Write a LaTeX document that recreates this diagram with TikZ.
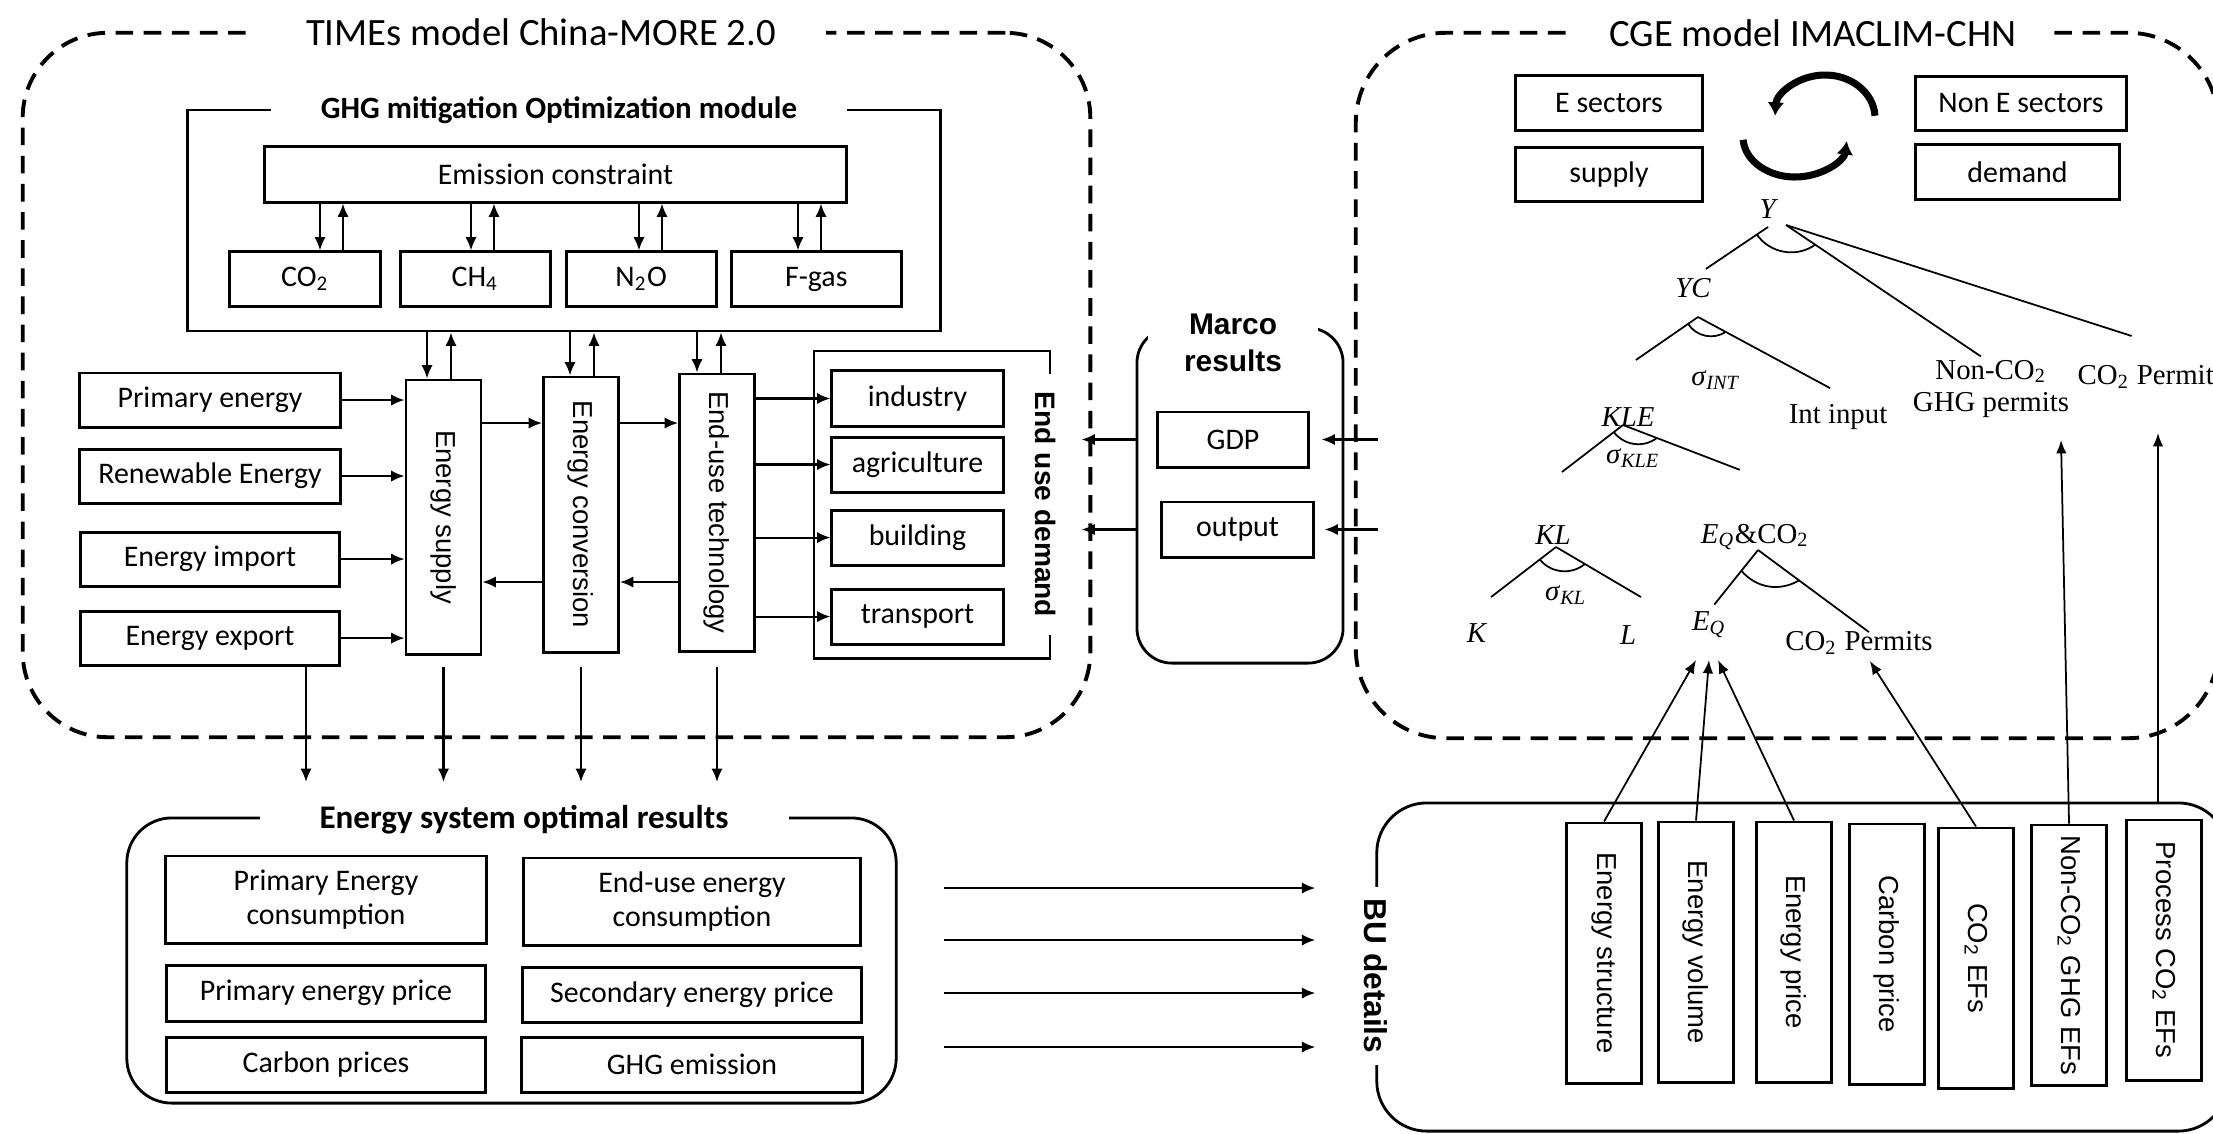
\documentclass[tikz,border=0pt]{standalone}
\usepackage{fontspec}
\setmainfont{Carlito}
\newfontfamily\arialfont{Liberation Sans}
\newfontfamily\serifont{Liberation Serif}
\usetikzlibrary{arrows.meta, positioning}

\begin{document}
\begin{tikzpicture}[
		x=0.01cm, y=0.01cm,
		every node/.style={font=\fontsize{8.5}{9.5}\selectfont, inner sep=0pt},
		%% Frame styles
		model/.style={rectangle, draw=black, line width=1.1pt,
			dash pattern=on 5pt off 3pt, rounded corners=0.85cm},
		panel/.style={rectangle, draw=black, line width=0.8pt},
		heading/.style={fill=white, font=\fontsize{11}{13}\selectfont,
			inner xsep=0.5cm, inner ysep=2pt},
		subhead/.style={fill=white, font=\bfseries\fontsize{8.8}{10}\selectfont,
			inner xsep=0.5cm, inner ysep=2pt},
		sidetag/.style={rotate=-90, fill=white,
			font=\arialfont\bfseries\fontsize{8}{9}\selectfont,
			inner xsep=0.16cm, inner ysep=1pt},
		%% Box styles
		cell/.style={rectangle, draw=black, line width=0.85pt, align=center},
		vbox/.style={rectangle, draw=black, line width=0.8pt,
			minimum width=0.75cm, minimum height=2.6cm},
		vtext/.style={rotate=-90, font=\arialfont\fontsize{7.8}{9}\selectfont},
		leaf/.style={font=\serifont\fontsize{8.2}{9.2}\selectfont, align=center},
		%% Arrow styles
		arr/.style={-{Latex[length=3.8pt,width=3.2pt]}, line width=0.6pt},
		feed/.style={-{Latex[length=3.8pt,width=3pt]}, line width=0.5pt},
		branch/.style={line width=0.5pt},
		cyclearr/.style={-{Latex[length=3.8pt,width=4.8pt]}, line width=2pt},
		]
		
		\useasboundingbox (0,0) rectangle (2213,-1133);
		
		%% ── TIMES model (left) ───────────────────────────────────────────
		\node[model, minimum width=10.67cm, minimum height=7.04cm] (times) at (556.5,-385) {};
		\node[heading] (timestitle) at (541,-32) {TIMEs model China-MORE 2.0};
		
		\node[panel, minimum width=7.52cm, minimum height=2.21cm] (ghg) at (564,-220.5) {};
		\node[subhead] (ghgtitle) at (559,-110) {GHG mitigation Optimization module};
		
		\node[cell, minimum width=5.81cm, minimum height=0.55cm] (emis) at (555.5,-174.5)
		{Emission constraint};
		
		\node[cell, minimum width=1.5cm, minimum height=0.54cm] (co2) at (305,-279)
		{CO\textsubscript{2}};
		\node[cell, minimum width=1.5cm, minimum height=0.54cm, right=0.17cm of co2] (ch4)
		{CH\textsubscript{4}};
		\node[cell, minimum width=1.5cm, minimum height=0.54cm, right=0.13cm of ch4] (n2o)
		{N\textsubscript{2}O};
		\node[cell, minimum width=1.7cm, minimum height=0.54cm, right=0.12cm of n2o] (fgas)
		{F-gas};
		
		%% constraint <-> gases
		\foreach \g/\xa in {co2/320, ch4/471, n2o/639, fgas/798}{
			\draw[arr] (\xa,0 |- emis.south) -- (\xa,0 |- \g.north);
			\draw[arr] (\xa+23,0 |- \g.north) -- (\xa+23,0 |- emis.south);
		}
		
		%% energy chain
		\node[vbox, minimum height=2.74cm, label={[vtext]center:Energy supply}] (supply) at (443.5,-517) {};
		\node[vbox, minimum height=2.75cm, label={[vtext]center:Energy conversion}] (conv) at (581,-514.5) {};
		\node[vbox, minimum height=2.77cm, label={[vtext]center:End-use technology}] (tech) at (717,-512.5) {};
		
		\foreach \b/\xa in {supply/427, conv/570, tech/697}{
			\draw[arr] (\xa,0 |- ghg.south) -- (\xa,0 |- \b.north);
			\draw[arr] (\xa+24,0 |- \b.north) -- (\xa+24,0 |- ghg.south);
		}
		
		\node[cell, minimum width=2.6cm, minimum height=0.54cm] (prim) at (210,-400) {Primary energy};
		\node[cell, minimum width=2.6cm, minimum height=0.54cm, below=0.19cm of prim] (renew) {Renewable Energy};
		\node[cell, minimum width=2.58cm, minimum height=0.54cm, below=0.26cm of renew] (imp) {Energy import};
		\node[cell, minimum width=2.58cm, minimum height=0.54cm, below=0.22cm of imp] (exp) {Energy export};
		
		\foreach \s in {prim, renew, imp, exp}
		\draw[arr] (\s.east) -- (\s.east -| supply.west);
		
		\coordinate (fwd) at (0,-423);
		\coordinate (bck) at (0,-582);
		\draw[arr] (supply.east |- fwd) -- (conv.west |- fwd);
		\draw[arr] (conv.east |- fwd) -- (tech.west |- fwd);
		\draw[arr] (conv.west |- bck) -- (supply.east |- bck);
		\draw[arr] (tech.west |- bck) -- (conv.east |- bck);
		
		%% end use demand
		\node[panel, minimum width=2.36cm, minimum height=3.07cm] (demand) at (932,-504.5) {};
		\node[sidetag, inner xsep=0.18cm] (demandtag) at ([xshift=-0.06cm]demand.east) {End use demand};
		
		\node[cell, minimum width=1.71cm, minimum height=0.55cm] (industry) at (917.5,-398.5) {industry};
		\node[cell, minimum width=1.71cm, minimum height=0.55cm, below=0.08cm of industry] (agri) {agriculture};
		\node[cell, minimum width=1.71cm, minimum height=0.55cm, below=0.15cm of agri] (build) {building};
		\node[cell, minimum width=1.71cm, minimum height=0.55cm, below=0.21cm of build] (trans) {transport};
		
		\foreach \s in {industry, agri, build, trans}
		\draw[arr] (\s.west -| tech.east) -- (\s.west);
		
		%% ── Optimal results (bottom left) ────────────────────────────────
		\node[panel, rounded corners=0.45cm, minimum width=7.69cm, minimum height=2.85cm] (res) at (511.5,-960.5) {};
		\node[subhead, font=\bfseries\fontsize{9.4}{11}\selectfont, inner xsep=0.6cm] (restitle) at (524,-820)
		{Energy system optimal results};
		
		\node[cell, minimum width=3.2cm, minimum height=0.87cm] (pec) at (326,-899.5) {Primary Energy\\consumption};
		\node[cell, minimum width=3.18cm, minimum height=0.56cm, below=0.19cm of pec] (pep) {Primary energy price};
		\node[cell, minimum width=3.18cm, minimum height=0.55cm, below=0.13cm of pep] (cp) {Carbon prices};
		\node[cell, minimum width=3.36cm, minimum height=0.87cm] (eec) at (692,-901.5) {End-use energy\\consumption};
		\node[cell, minimum width=3.38cm, minimum height=0.55cm, below=0.19cm of eec] (sep) {Secondary energy price};
		\node[cell, minimum width=3.4cm, minimum height=0.55cm, below=0.12cm of sep] (ghge) {GHG emission};
		
		%% TIMES -> results
		\coordinate (outtop) at (0,-667);
		\coordinate (outtip) at (0,-782);
		\coordinate (expout) at (306,-667);
		\draw[arr] (expout) -- (expout |- outtip);
		\foreach \b in {supply, conv, tech}
		\draw[arr] (\b.south |- outtop) -- (\b.south |- outtip);
		
		%% ── Marco results (middle) ───────────────────────────────────────
		\node[panel, rounded corners=0.35cm, minimum width=2.06cm, minimum height=3.35cm] (marco) at (1240,-495.5) {};
		\node[fill=white, align=center, font=\arialfont\bfseries\fontsize{8.5}{10.5}\selectfont,
		inner xsep=0.36cm, inner ysep=1pt] (marcotitle) at (1233,-343) {Marco\\results};
		\node[cell, minimum width=1.5cm, minimum height=0.55cm] (gdp) at (1233,-439.5) {GDP};
		\node[cell, minimum width=1.51cm, minimum height=0.55cm] (outp) at (1237.5,-529.5) {output};
		
		%% ── CGE model (right) ────────────────────────────────────────────
		\node[model, rounded corners=0.9cm, minimum width=8.62cm, minimum height=7.05cm] (cge) at (1787,-385.5) {};
		\node[heading, inner xsep=0.35cm] (cgetitle) at (1813,-33) {CGE model IMACLIM-CHN};
		
		\node[cell, minimum width=1.87cm, minimum height=0.54cm] (esec) at (1609,-103) {E sectors};
		\node[cell, minimum width=1.87cm, minimum height=0.54cm, below=0.14cm of esec] (esup) {supply};
		\node[cell, minimum width=2.11cm, minimum height=0.53cm] (nesec) at (2021,-103.5) {Non E sectors};
		\node[cell, minimum width=2.03cm, minimum height=0.54cm] (nedem) at (2017.5,-172) {demand};
		
		%% supply/demand loop
		\coordinate (cyctop) at (1825,-118);
		\coordinate (cycbot) at (1795,-137);
		\draw[cyclearr] ([shift={(3:0.5cm and 0.43cm)}]cyctop)
		arc[start angle=3, end angle=177, x radius=0.5cm, y radius=0.43cm];
		\draw[cyclearr] ([shift={(184:0.52cm and 0.4cm)}]cycbot)
		arc[start angle=184, end angle=354, x radius=0.52cm, y radius=0.4cm];
		
		%% nesting tree
		\node[leaf] (ytop) at (1769,-209) {\textit{Y}};
		\node[leaf] (yc) at (1693,-288) {\textit{YC}};
		\node[leaf] (sint) at (1716,-380) {\textit{σ}\textsubscript{\textit{INT}}};
		\node[leaf] (intin) at (1838,-417) {Int input};
		\node[leaf] (kle) at (1628,-417) {\textit{KLE}};
		\node[leaf] (skle) at (1633,-458) {\textit{σ}\textsubscript{\textit{KLE}}};
		\node[leaf] (nonco2) at (1991,-389) {Non-CO\textsubscript{2}\\GHG permits};
		\node[leaf, anchor=west] (co2perm) at (2077,-377) {CO\textsubscript{2} Permit};
		\node[leaf] (kl) at (1553,-535) {\textit{KL}};
		\node[leaf] (skl) at (1566,-595) {\textit{σ}\textsubscript{\textit{KL}}};
		\node[leaf] (kk) at (1477,-633) {\textit{K}};
		\node[leaf] (ll) at (1628,-635) {\textit{L}};
		\node[leaf] (eqco2) at (1755,-537) {\textit{E}\textsubscript{\textit{Q}}\&CO\textsubscript{2}};
		\node[leaf] (eq) at (1709,-625) {\textit{E}\textsubscript{\textit{Q}}};
		\node[leaf] (co2p) at (1859,-643) {CO\textsubscript{2} Permits};
		
		\coordinate (apy) at (1768,-227);
		\coordinate (apy2) at (1786,-225);
		\draw[branch] (apy) -- coordinate[pos=0.18] (ya) ++(214:75);
		\draw[branch] (apy2) -- coordinate[pos=0.15] (yb) ++(-34:235);
		\draw[branch] (apy2) -- ++(-17.8:363);
		\draw[branch] (ya) to[bend right=45] (yb);
		
		\coordinate (apyc) at (1698,-317);
		\draw[branch] (apyc) -- coordinate[pos=0.16] (yca) ++(214.7:75.5);
		\draw[branch] (apyc) -- coordinate[pos=0.21] (ycb) ++(-28.3:150);
		\draw[branch] (yca) to[bend right=45] (ycb);
		
		\coordinate (apkle) at (1623,-425);
		\draw[branch] (apkle) -- coordinate[pos=0.15] (klea) ++(217.6:77);
		\draw[branch] (apkle) -- coordinate[pos=0.29] (kleb) ++(-21:125);
		\draw[branch] (klea) to[bend right=45] (kleb);
		
		\coordinate (apkl) at (1556,-547);
		\draw[branch] (apkl) -- coordinate[pos=0.25] (kla) ++(217.6:82);
		\draw[branch] (apkl) -- coordinate[pos=0.34] (klb) ++(-30.5:98.6);
		\draw[branch] (kla) to[bend right=45] (klb);
		
		\coordinate (apeq) at (1758,-550);
		\draw[branch] (apeq) -- coordinate[pos=0.38] (eqa) ++(231.3:70);
		\draw[branch] (apeq) -- coordinate[pos=0.37] (eqb) ++(-36.5:138);
		\draw[branch] (eqa) to[bend right=40] (eqb);
		
		%% CGE -> Marco -> end use
		\draw[arr, shorten >=0.3cm] (gdp -| marco.west) -- (gdp -| demand.east);
		\draw[arr, shorten >=0.3cm] (outp -| marco.west) -- (outp -| demand.east);
		\draw[arr, shorten <=-0.24cm, shorten >=0.12cm] (gdp -| cge.west) -- (gdp.east);
		\draw[arr, shorten <=-0.24cm, shorten >=0.1cm] (outp -| cge.west) -- (outp.east);
		
		%% ── BU details (bottom right) ────────────────────────────────────
		\node[panel, rounded corners=0.5cm, minimum width=8.51cm, minimum height=3.28cm] (bu) at (1802.5,-967) {};
		\node[sidetag, font=\arialfont\bfseries\fontsize{9}{10}\selectfont, inner xsep=0.12cm] (butag)
		at ([yshift=-0.09cm]bu.west) {BU details};
		
		\foreach \n/\x/\y/\txt in {es/1604/953/Energy structure, ev/1696/952/Energy volume,
			ep/1794/952/Energy price, cpr/1887/954/Carbon price, co2ef/1976/958/CO\textsubscript{2} EFs,
			nonef/2069/955/Non-CO\textsubscript{2} GHG EFs, procef/2164/950/Process CO\textsubscript{2} EFs}
		\node[vbox, label={[vtext]center:\txt}] (\n) at (\x,-\y) {};
		
		%% results -> BU
		\foreach \y in {888,940,993,1047}
		\draw[arr, shorten <=0.46cm, shorten >=0.6cm] (res.east |- 0,-\y) -- (bu.west |- 0,-\y);
		
		%% BU -> tree
		\coordinate (eqin) at (1709,-660);
		\coordinate (nontip) at (2061,-440);
		\coordinate (proctip) at (2158,-433);
		\draw[feed] (es.north) -- ([xshift=-0.13cm]eqin);
		\draw[feed] (ev.north) -- (eqin);
		\draw[feed] (ep.north) -- ([xshift=0.09cm]eqin);
		\draw[feed, shorten >=2pt] (co2ef.north) -- ([xshift=0.07cm]co2p.south);
		\draw[feed] (nonef.north) -- (nontip);
		\draw[feed] (bu.north -| proctip) -- (proctip);
		
\end{tikzpicture}
\end{document}
